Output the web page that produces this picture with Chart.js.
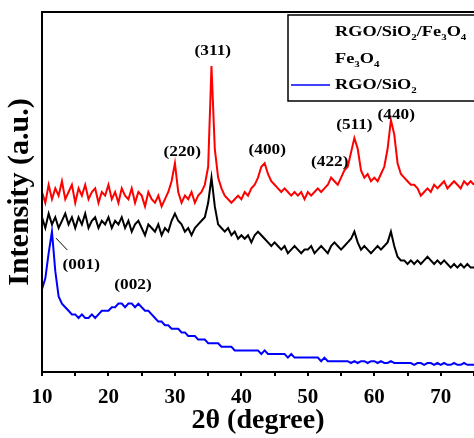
<!DOCTYPE html>
<html>
<head>
<meta charset="utf-8">
<script src="https://cdn.jsdelivr.net/npm/chart.js@4.4.0/dist/chart.umd.min.js"></script>
<style>
  html, body { margin: 0; padding: 0; background: #fff; }
  #wrap { width: 474px; height: 438px; position: relative; }
</style>
</head>
<body>
<div id="wrap"><canvas id="xrd"></canvas></div>
<script>
// 2theta values, 10 to 75 in 0.5 steps
const angles = Array.from({length: 131}, (_, i) => 10 + i * 0.5);

const rgoSiFe = [
  50,47,52,48,51,49,53,48,50,52,
  47,51,49,52,48,50,51,47,50,49,
  52,48,50,47,51,49,48,51,47,50,
  49,46,50,48,47,49,46,48,50,53,
  58,50,47,49,48,50,47,49,50,52,
  57,85,62,54,51,49,48,47,48,49,
  48,50,49,51,52,54,57,58,55,53,
  52,51,50,51,50,49,50,49,50,48,
  50,49,50,51,50,51,52,54,53,52,
  54,56,57,61,65,62,56,54,55,53,
  54,53,55,57,62,70,66,58,55,54,
  53,52,52,51,49,50,51,50,52,51,
  52,53,51,52,53,52,51,53,52,53,
  52
];
const fe3o4 = [
  43,40,44,41,43,40,42,44,41,43,
  40,43,41,44,40,42,43,40,42,41,
  43,40,42,41,43,40,42,39,41,42,
  40,38,41,40,39,41,38,40,39,42,
  44,42,41,39,40,38,40,41,42,43,
  47,54,46,41,40,39,40,38,39,37,
  38,37,38,36,38,39,38,37,36,35,
  36,35,34,35,33,34,35,34,33,34,
  34,35,33,34,35,34,33,35,36,35,
  34,35,36,37,39,36,34,35,34,33,
  34,35,34,35,36,39,35,32,31,31,
  30,31,30,31,30,31,32,31,30,31,
  30,31,30,29,30,29,30,29,30,29,
  29
];
const rgoSi = [
  23,26,33,39,28,21,19,18,17,16,
  16,15,16,15,15,16,15,16,17,17,
  17,18,18,19,19,18,19,19,18,19,
  18,17,17,16,15,14,14,13,13,12,
  12,12,11,11,10,10,10,9,9,9,
  8,8,8,8,7,7,7,7,6,6,
  6,6,6,6,6,6,5,6,5,5,
  5,5,5,5,4,5,4,4,4,4,
  4,4,4,4,3,4,3,3,3,3,
  3,3,3,2.5,3,2.5,3,3,2.5,3,
  3,2.5,3,2.5,2.5,3,2.5,2.5,2.5,2.5,
  2.5,2.5,2,2.5,2.5,2,2.5,2.5,2,2.5,
  2,2.5,2,2,2.5,2,2,2.5,2,2,
  2
];
const xTicks = [10, 20, 30, 40, 50, 60, 70];

// peak labels: [text, 2theta, intensity]
const peakLabels = [
  ['(311)', 35.7, 89],
  ['(220)', 31.1, 61],
  ['(400)', 43.9, 61.7],
  ['(422)', 53.3, 58.3],
  ['(511)', 57.0, 68.6],
  ['(440)', 63.3, 71.4],
  ['(001)', 15.9, 29.7],
  ['(002)', 23.7, 24.2]
];

const serif = '"Liberation Serif", "Times New Roman", serif';

function pts(arr) { return arr.map((v, i) => ({x: angles[i], y: v})); }

// draws text with subscript pieces, stretched a bit horizontally
function drawRich(ctx, parts, x, y, size, sx) {
  ctx.save();
  ctx.translate(x, y);
  ctx.scale(sx, 1);
  let cx = 0;
  parts.forEach(p => {
    const sz = p[1] ? Math.round(size * 0.62) : size;
    ctx.font = 'bold ' + sz + 'px ' + serif;
    ctx.fillText(p[0], cx, p[1] ? size * 0.28 : 0);
    cx += ctx.measureText(p[0]).width;
  });
  ctx.restore();
}

const extras = {
  id: 'extras',
  afterDraw(chart) {
    const ctx = chart.ctx, a = chart.chartArea;
    const xs = chart.scales.x, ys = chart.scales.y;
    ctx.save();
    // frame
    ctx.strokeStyle = '#000';
    ctx.lineWidth = 2;
    ctx.strokeRect(a.left, a.top, a.right - a.left + 2, a.bottom - a.top);
    // peak labels
    ctx.fillStyle = '#000';
    ctx.textAlign = 'center';
    ctx.textBaseline = 'middle';
    ctx.font = 'bold 15px ' + serif;
    peakLabels.forEach(l => {
      ctx.save();
      ctx.translate(xs.getPixelForValue(l[1]), ys.getPixelForValue(l[2]));
      ctx.scale(1.15, 1);
      ctx.fillText(l[0], 0, 0);
      ctx.restore();
    });
    // arrow to (001)
    ctx.lineWidth = 1;
    ctx.beginPath();
    ctx.moveTo(xs.getPixelForValue(12.1), ys.getPixelForValue(37.2));
    ctx.lineTo(xs.getPixelForValue(13.8), ys.getPixelForValue(33.9));
    ctx.stroke();
    // legend box
    ctx.lineWidth = 1.5;
    ctx.fillStyle = '#fff';
    ctx.fillRect(288, 15, 190, 86);
    ctx.strokeRect(288, 15, 190, 86);
    ctx.strokeStyle = '#0000ff';
    ctx.lineWidth = 1.5;
    ctx.beginPath();
    ctx.moveTo(291, 85);
    ctx.lineTo(330, 85);
    ctx.stroke();
    ctx.fillStyle = '#000';
    ctx.textAlign = 'left';
    ctx.textBaseline = 'alphabetic';
    drawRich(ctx, [['RGO/SiO', 0], ['2', 1], ['/Fe', 0], ['3', 1], ['O', 0], ['4', 1]], 335, 36, 15, 1.22);
    drawRich(ctx, [['Fe', 0], ['3', 1], ['O', 0], ['4', 1]], 335, 63, 15, 1.22);
    drawRich(ctx, [['RGO/SiO', 0], ['2', 1]], 335, 89, 15, 1.22);
    ctx.restore();
  }
};

const chart = new Chart(document.getElementById('xrd'), {
  type: 'line',
  data: {
    datasets: [
      {label: 'RGO/SiO2/Fe3O4', data: pts(rgoSiFe), borderColor: '#ff0000', borderWidth: 2},
      {label: 'Fe3O4', data: pts(fe3o4), borderColor: '#000000', borderWidth: 2},
      {label: 'RGO/SiO2', data: pts(rgoSi), borderColor: '#0000ff', borderWidth: 2}
    ]
  },
  options: {
    responsive: true,
    maintainAspectRatio: false,
    animation: false,
    elements: {point: {radius: 0}, line: {tension: 0}},
    layout: {padding: {top: 12, right: 0, left: 0, bottom: 0}},
    plugins: {legend: {display: false}, tooltip: {enabled: false}},
    scales: {
      x: {
        type: 'linear',
        min: 10,
        max: 75,
        afterFit(s) { s.height = 66; s.paddingLeft = 0; s.paddingRight = 0; },
        afterBuildTicks(s) { s.ticks = [10,15,20,25,30,35,40,45,50,55,60,65,70,75].map(v => ({value: v})); },
        border: {display: false},
        grid: {drawOnChartArea: false, drawTicks: true, tickLength: 4, color: '#000', lineWidth: 2},
        ticks: {
          color: '#000',
          padding: 9,
          maxRotation: 0,
          autoSkip: false,
          font: {family: serif, size: 21, weight: 'bold'},
          callback: v => xTicks.includes(v) ? String(v) : ''
        },
        title: {
          display: true,
          text: '2θ (degree)',
          color: '#000',
          padding: {top: 0, bottom: 0},
          font: {family: serif, size: 28, weight: 'bold'}
        }
      },
      y: {
        min: 0,
        max: 100,
        afterFit(s) { s.width = 42; },
        border: {display: false},
        grid: {display: false},
        ticks: {display: false},
        title: {
          display: true,
          text: 'Intensity (a.u.)',
          color: '#000',
          padding: {top: 2, bottom: 0},
          font: {family: serif, size: 30, weight: 'bold'}
        }
      }
    }
  },
  plugins: [extras]
});
</script>
</body>
</html>
